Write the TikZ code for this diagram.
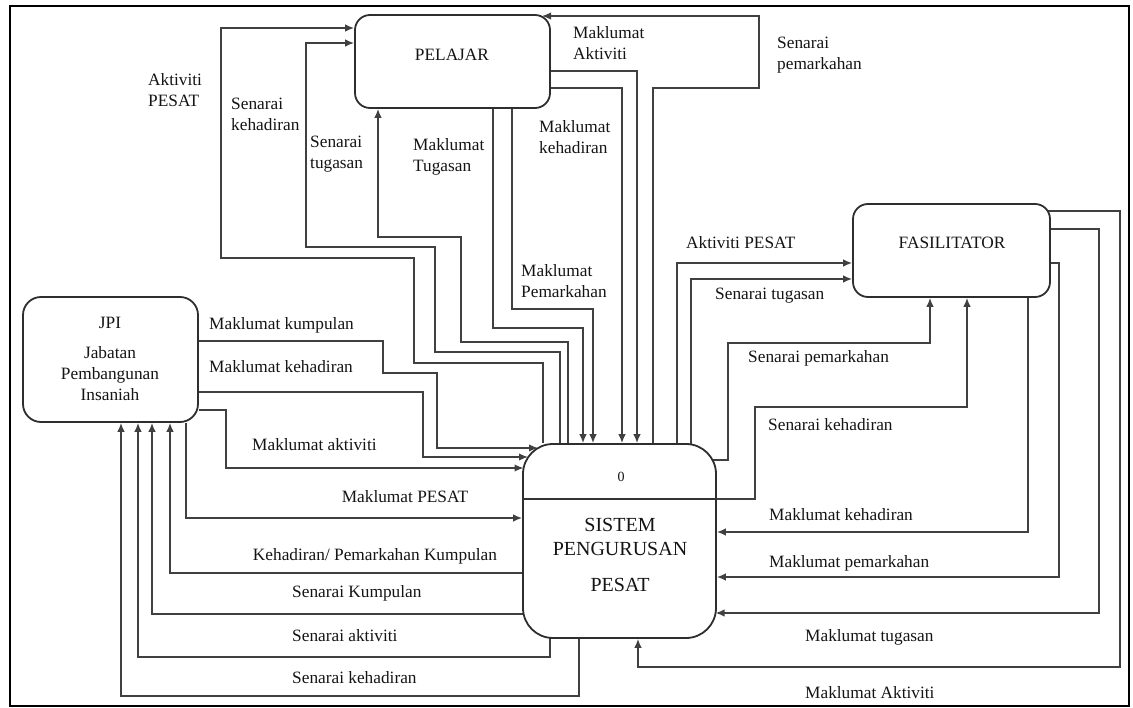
\documentclass[tikz,border=0pt]{standalone}
\usepackage{fontspec}
\setmainfont{Liberation Serif}
\usetikzlibrary{arrows.meta,backgrounds}
\begin{document}
\begin{tikzpicture}[x=1pt,y=-1pt,
  box/.style={draw=black!82, line width=1.8pt, fill=white, inner sep=0pt},
  flow/.style={draw=black!75, line width=1.4pt},
  arr/.style={flow, -{Latex[length=9pt,width=7.5pt]}},
  lbl/.style={inner sep=0pt, text=black!92, font=\fontsize{17.3}{21}\selectfont},
  lw/.style={lbl, anchor=west, align=left},
]
\useasboundingbox (0,0) rectangle (1133,708);
\draw[line width=2.6pt] (10,6) rectangle (1129,706);

% entities / process
\node[box, rounded corners=15pt, minimum width=195pt, minimum height=93pt] (pel) at (452.5,61.5) {};
\node[box, rounded corners=15pt, minimum width=197pt, minimum height=93pt] (fas) at (951.5,250.5) {};
\node[box, rounded corners=18pt, minimum width=175pt, minimum height=125pt] (jpi) at (110.5,359.5) {};
\node[box, rounded corners=30pt, minimum width=193pt, minimum height=194pt] (proc) at (619.5,541) {};
\draw[line width=1.5pt, draw=black!80] (proc.west |- 0,499) -- (proc.east |- 0,499);

\node[lbl] (pelT) at (452,55) {PELAJAR};
\node[lbl] (fasT) at (952,243) {FASILITATOR};
\node[lbl] (jpiA) at (110,323) {JPI};
\node[lbl] (jpiB) at (110,353) {Jabatan};
\node[lbl] (jpiC) at (110,375) {Pembangunan};
\node[lbl] (jpiD) at (110,395) {Insaniah};
\node[lbl, font=\fontsize{14}{16}\selectfont] (procN) at (621,477) {0};
\node[lbl, font=\fontsize{20}{24}\selectfont] (procA) at (620,525) {SISTEM};
\node[lbl, font=\fontsize{20}{24}\selectfont] (procB) at (620,549) {PENGURUSAN};
\node[lbl, font=\fontsize{20}{24}\selectfont] (procC) at (620,585) {PESAT};

% labels
\node[lw] (l1) at (148,90) {Aktiviti\\PESAT};
\node[lw] (l2) at (231,114) {Senarai\\kehadiran};
\node[lw] (l3) at (310,154) {Senarai\\tugasan};
\node[lw] (l4) at (413,157) {Maklumat\\Tugasan};
\node[lw] (l5) at (539,137) {Maklumat\\kehadiran};
\node[lw] (l6) at (573,43) {Maklumat\\Aktiviti};
\node[lw] (l7) at (777,55) {Senarai\\pemarkahan};
\node[lw] (l8) at (521,281) {Maklumat\\Pemarkahan};
\node[lw] (l9) at (686,243) {Aktiviti PESAT};
\node[lw] (l10) at (715,296) {Senarai tugasan};
\node[lw] (l11) at (748,358) {Senarai pemarkahan};
\node[lw] (l12) at (768,425) {Senarai kehadiran};
\node[lw] (l13) at (209,325) {Maklumat kumpulan};
\node[lw] (l14) at (209,367) {Maklumat kehadiran};
\node[lw] (l15) at (252,445) {Maklumat aktiviti};
\node[lbl] (l16) at (405,497) {Maklumat PESAT};
\node[lbl] (l17) at (375,556) {Kehadiran/ Pemarkahan Kumpulan};
\node[lw] (l18) at (292,593) {Senarai Kumpulan};
\node[lw] (l19) at (292,636) {Senarai aktiviti};
\node[lw] (l20) at (292,678) {Senarai kehadiran};
\node[lw] (l21) at (769,515) {Maklumat kehadiran};
\node[lw] (l22) at (769,563) {Maklumat pemarkahan};
\node[lw] (l23) at (805,637) {Maklumat tugasan};
\node[lw] (l24) at (805,693) {Maklumat Aktiviti};

\begin{scope}[on background layer]
% PELAJAR
\draw[arr] (proc.north -| 543,0) |- (414,363) |- (221,258) |- (pel.west |- 0,28);
\draw[arr] (proc.north -| 560,0) |- (435,352) |- (306,247) |- (pel.west |- 0,43);
\draw[arr] (proc.north -| 568,0) |- (461,342) |- (378,237) -- (pel.south -| 378,0);
\draw[arr] (pel.south -| 493,0) |- (583,328) -- (proc.north -| 583,0);
\draw[arr] (pel.south -| 512,0) |- (593,309) -- (proc.north -| 593,0);
\draw[arr] (pel.east |- 0,88) -| (proc.north -| 622,0);
\draw[arr] (pel.east |- 0,71) -| (proc.north -| 637,0);
\draw[arr] (proc.north -| 653,0) |- (759,88) |- (542,16);
% FASILITATOR
\draw[arr] (677,460) |- (fas.west |- 0,263);
\draw[arr] (691,460) |- (fas.west |- 0,279);
\draw[arr] (705,460) -| (728,343) -| (fas.south -| 930,0);
\draw[arr] (705,499) -| (755,407) -| (fas.south -| 967,0);
\draw[arr] (fas.south -| 1028,0) |- (proc.east |- 0,532);
\draw[arr] (fas.east |- 0,263) -| (1059,577) -- (proc.east |- 0,577);
\draw[arr] (fas.east |- 0,229) -| (1099,613) -- (715.6,613);
\draw[arr] (1040,211) -| (1120,667) -| (proc.south -| 638,0);
% JPI
\draw[arr] (jpi.east |- 0,341) -| (383,373) -| (437,448) -- (538,448);
\draw[arr] (jpi.east |- 0,392) -| (423,457) -- (528,457);
\draw[arr] (jpi.east |- 0,410) -| (226,468) -- (523.5,468);
\draw[arr] (jpi.south -| 186,0) |- (proc.west |- 0,518);
\draw[arr] (proc.west |- 0,573) -| (jpi.south -| 170,0);
\draw[arr] (530,614) -| (jpi.south -| 152,0);
\draw[arr] (550,630) |- (138,657) -- (jpi.south -| 138,0);
\draw[arr] (579,630) |- (121,696) -- (jpi.south -| 121,0);
\end{scope}
\end{tikzpicture}
\end{document}
